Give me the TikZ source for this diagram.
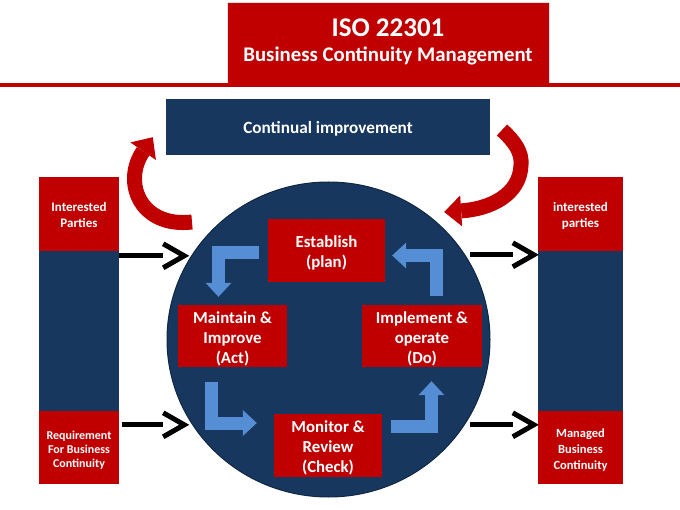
\documentclass[tikz,border=0pt]{standalone}
\usepackage{fontspec}
\setmainfont{Carlito}
\usetikzlibrary{arrows.meta,calc,shapes.geometric}
\definecolor{cred}{HTML}{C00000}
\definecolor{cblue}{HTML}{17375E}
\definecolor{lblue}{HTML}{558ED5}
\newcommand\lowtxt[2]{\raisebox{-#1}[\height][\depth]{\begin{tabular}{@{}c@{}}#2\end{tabular}}}
\begin{document}
\begin{tikzpicture}[x=1pt,y=-1pt,
  redbox/.style={fill=cred, text=white, align=center, inner sep=0pt},
  bluebox/.style={fill=cblue, text=white, align=center, inner sep=0pt},
  boxfont/.style={font=\bfseries\fontsize{16.8}{20}\selectfont},
  sidefont/.style={font=\bfseries\fontsize{13}{16}\selectfont},
  lconn/.style={lblue, line width=13pt, -{Triangle[width=26pt,length=14pt,line width=0pt]}},
  curvarrow/.style={cred, line width=15pt, -{Triangle[width=31pt,length=17pt,line width=0pt]}},
  shaft/.style={black, line width=5pt},
  chev/.style={black, line width=5pt, line join=miter},
  chevat/.pic={\draw[chev] (0,-12) -- (21,0) -- (0,12);}
]
\useasboundingbox (0,0) rectangle (680,510);

% title
\node[redbox, draw=black!12, line width=0.8pt, minimum width=322pt, minimum height=83pt,
      font=\bfseries\fontsize{20.8}{24}\selectfont] (title) at (388,43.5)
      {\lowtxt{0.5pt}{{\fontsize{27}{24}\selectfont ISO 22301}\\[1pt]Business Continuity Management}};
\draw[cred, line width=4pt] (0,85) coordinate (rl1) -- (680,85) coordinate (rl2);

% continual improvement
\node[bluebox, minimum width=324pt, minimum height=56pt, font=\bfseries\fontsize{17.2}{20}\selectfont] (ci) at (328,127) {\lowtxt{3pt}{Continual improvement}};

% side columns
\node[redbox, minimum width=80pt, minimum height=74pt, sidefont] (lt) at (79,214) {\lowtxt{2pt}{Interested\\Parties}};
\node[bluebox, minimum width=80pt, minimum height=160pt] (lm) at (79,331) {};
\node[redbox, minimum width=80pt, minimum height=73pt, font=\bfseries\fontsize{12}{14}\selectfont] (lb) at (79,447.5) {\lowtxt{3pt}{Requirement\\For Business\\Continuity}};

\node[redbox, minimum width=85pt, minimum height=74pt, sidefont] (rt) at (580.5,214) {\lowtxt{2pt}{interested\\parties}};
\node[bluebox, minimum width=85pt, minimum height=160pt] (rm) at (580.5,331) {};
\node[redbox, minimum width=85pt, minimum height=73pt, font=\bfseries\fontsize{12.5}{16}\selectfont] (rb) at (580.5,447.5) {\lowtxt{3pt}{Managed\\Business\\Continuity}};

% cycle
\node[ellipse, fill=cblue, draw=cblue!70!black, line width=1pt, inner sep=0pt,
      minimum width=323pt, minimum height=315pt] (cyc) at (328.5,339.5) {};

\node[redbox, minimum width=117pt, minimum height=63pt, boxfont] (estab) at (326.5,250.5) {\lowtxt{3.5pt}{Establish\\(plan)}};
\node[redbox, minimum width=109pt, minimum height=62pt, boxfont] (maint) at (232.5,336) {\lowtxt{4pt}{Maintain \&\\Improve\\(Act)}};
\node[redbox, minimum width=120pt, minimum height=62pt, boxfont] (impl) at (422,336) {\lowtxt{4pt}{Implement \&\\operate\\(Do)}};
\node[redbox, minimum width=108pt, minimum height=63pt, boxfont] (monit) at (328,445.5) {\lowtxt{3pt}{Monitor \&\\Review\\(Check)}};

% blue L connectors
\draw[lconn] ($(estab.west)+(-9,2)$) -| ($(maint.north)+(-14,-8)$);
\draw[lconn] ($(impl.north)+(14.5,-9)$) |- ($(estab.east)+(7,5)$);
\draw[lconn] ($(maint.south)+(-21,15)$) |- ($(monit.west)+(-17,-22.5)$);
\draw[lconn] ($(monit.east)+(9,-19.5)$) -| ($(impl.south)+(9.5,14)$);

% red curved arrows
\coordinate (lstart) at (192,222);
\draw[curvarrow] (lstart) .. controls (140,228) and (122,182) .. ($(ci.south west)+(-13,-18)$);
\coordinate (rstart) at (502,130);
\draw[curvarrow] (rstart) .. controls (515,142) and (522,152) .. (521,165)
   .. controls (520,195) and (490,209) .. ($(ci.east)+(-46,85)$);

% black arrows
\coordinate (a1) at ($(lm.north east)+(44,5)$);
\draw[shaft] ($(lm.north east)+(0,5)$) -- (a1);
\pic at (a1) {chevat};
\coordinate (a2) at ($(lb.north east)+(44,14)$);
\draw[shaft] ($(lb.north east)+(3,14)$) -- (a2);
\pic at (a2) {chevat};
\coordinate (a3) at ($(rm.north west)+(-25,4)$);
\draw[shaft] ($(rm.north west)+(-68,4)$) -- (a3);
\pic at (a3) {chevat};
\coordinate (a4) at ($(rb.north west)+(-25,14)$);
\draw[shaft] ($(rb.north west)+(-68,14)$) -- (a4);
\pic at (a4) {chevat};
\end{tikzpicture}
\end{document}
